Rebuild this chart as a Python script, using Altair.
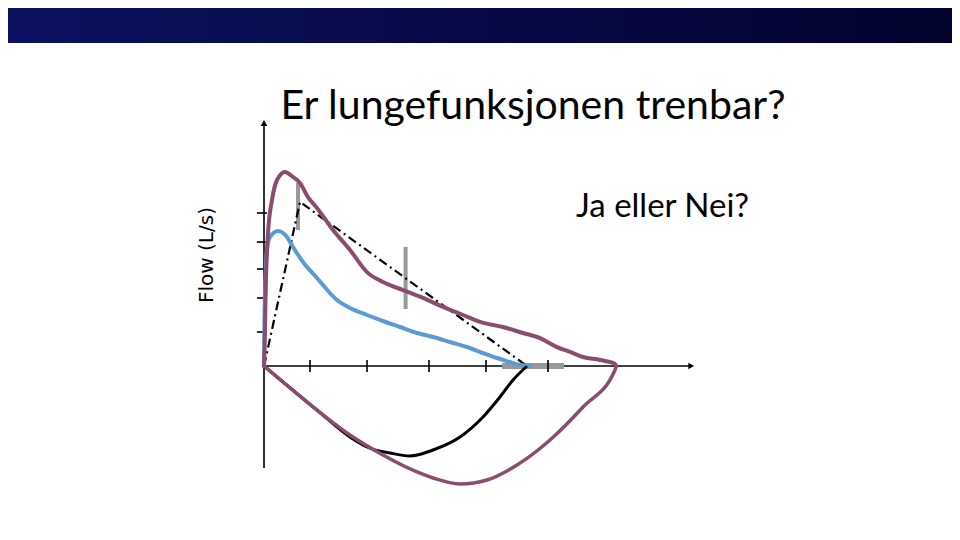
import altair as alt
import pandas as pd

# ---------------- data (volume in L, flow in L/s) ----------------
purple_exp_vol = [0, 0.017, 0.025, 0.067, 0.133, 0.217, 0.35, 0.483, 0.6, 0.733, 0.883, 1.15, 1.433,
                  1.717, 1.983, 2.317, 2.65, 2.983, 3.317, 3.6, 3.983, 4.317, 4.6, 4.883, 5.1, 5.317,
                  5.6, 5.85, 5.87]
purple_exp_flow = [0, 1.2, 2.2, 4.43, 5.53, 6.2, 6.47, 6.3, 6.1, 5.63, 5.27, 4.53, 3.87,
                   3.13, 2.8, 2.53, 2.27, 1.97, 1.7, 1.47, 1.3, 1.1, 0.93, 0.63, 0.47, 0.3,
                   0.2, 0.07, 0]

purple_insp_vol = [0, 0.317, 0.883, 1.433, 1.983, 2.55, 2.817, 3.267, 3.717, 4.217, 4.767, 5.317, 5.85, 5.87]
purple_insp_flow = [0, -0.533, -1.467, -2.3, -2.967, -3.533, -3.733, -3.933, -3.8, -3.3, -2.467, -1.367, -0.133, 0]

black_insp_vol = [0, 0.317, 0.883, 1.433, 1.717, 2.1, 2.433, 2.817, 3.267, 3.65, 3.933, 4.15, 4.367]
black_insp_flow = [0, -0.533, -1.467, -2.367, -2.7, -2.9, -3.0, -2.8, -2.367, -1.7, -1.033, -0.467, -0.033]

blue_exp_vol = [0, 0.008, 0.05, 0.1, 0.233, 0.383, 0.483, 0.65, 0.883, 1.217, 1.433, 1.717, 1.983,
                2.267, 2.55, 2.817, 3.1, 3.383, 3.65, 3.883, 4.1, 4.267, 4.433]
blue_exp_flow = [0, 1.633, 3.867, 4.3, 4.5, 4.3, 3.967, 3.467, 2.933, 2.2, 1.933, 1.7, 1.5,
                 1.3, 1.1, 0.967, 0.8, 0.633, 0.433, 0.267, 0.133, 0.033, 0]

pred_vol = [0, 0.6, 4.383]
pred_flow = [0, 5.47, 0]

gray_v_vol = [0.567, 2.36]
gray_v_lo = [4.53, 1.9]
gray_v_hi = [6.1, 3.97]
gray_h_start = [3.967]
gray_h_end = [5.0]

x_ticks = [0.767, 1.717, 2.75, 3.7, 4.733]
y_ticks = [1.133, 2.267, 3.233, 4.133, 5.1]

y_axis_range = [-3.4, 8.1]
x_axis_range = [0, 7.12]

title_text = "Er lungefunksjonen trenbar?"
note_text = "Ja eller Nei?"
ylabel_text = "Flow (L/s)"

# ---------------- chart ----------------
W, H = 944, 524
xs = alt.Scale(domain=[-256 / 60, 688 / 60], nice=False, zero=False)
ys = alt.Scale(domain=[-166 / 30, 358 / 30], nice=False, zero=False)


def series(vol, flow):
    return pd.DataFrame({"vol": vol, "flow": flow, "i": list(range(len(vol)))})


def X(f="vol"):
    return alt.X(f + ":Q", scale=xs, axis=None)


def Y(f="flow"):
    return alt.Y(f + ":Q", scale=ys, axis=None)


one = pd.DataFrame({"a": [0]})

banner = alt.Chart(one).mark_rect(
    color=alt.Gradient(
        gradient="linear",
        stops=[alt.GradientStop(color="#0c1262", offset=0),
               alt.GradientStop(color="#070a48", offset=0.45),
               alt.GradientStop(color="#03032e", offset=1)],
        x1=0, x2=1, y1=0, y2=0)
).encode(x=alt.value(0), x2=alt.value(W), y=alt.value(0), y2=alt.value(35))

yaxis = alt.Chart(pd.DataFrame({"vol": [0], "lo": [y_axis_range[0]], "hi": [y_axis_range[1]]})).mark_rule(
    color="black", strokeWidth=1.6
).encode(x=X(), y=Y("lo"), y2="hi:Q")

xaxis = alt.Chart(pd.DataFrame({"flow": [0], "lo": [x_axis_range[0]], "hi": [x_axis_range[1]]})).mark_rule(
    color="black", strokeWidth=1.6
).encode(x=X("lo"), x2="hi:Q", y=Y())

yarrow = alt.Chart(pd.DataFrame({"vol": [0], "flow": [y_axis_range[1]]})).mark_point(
    shape="triangle-up", filled=True, size=45, color="black", opacity=1
).encode(x=X(), y=Y())

xarrow = alt.Chart(pd.DataFrame({"vol": [x_axis_range[1]], "flow": [0]})).mark_point(
    shape="triangle-right", filled=True, size=45, color="black", opacity=1
).encode(x=X(), y=Y())

gray_v = alt.Chart(pd.DataFrame({"vol": gray_v_vol, "lo": gray_v_lo, "hi": gray_v_hi})).mark_rule(
    color="#999999", strokeWidth=4
).encode(x=X(), y=Y("lo"), y2="hi:Q")

gray_h = alt.Chart(pd.DataFrame({"a": gray_h_start, "b": gray_h_end, "flow": [0]})).mark_rule(
    color="#999999", strokeWidth=6
).encode(x=X("a"), x2="b:Q", y=Y())

xt = alt.Chart(pd.DataFrame({"vol": x_ticks, "flow": [0] * len(x_ticks)})).mark_tick(
    orient="vertical", size=12, thickness=1.6, color="black", opacity=1
).encode(x=X(), y=Y())

yt = alt.Chart(pd.DataFrame({"vol": [-0.035] * len(y_ticks), "flow": y_ticks})).mark_tick(
    orient="horizontal", size=10, thickness=1.6, color="black", opacity=1
).encode(x=X(), y=Y())

pred = alt.Chart(series(pred_vol, pred_flow)).mark_line(
    color="black", strokeWidth=2.2, strokeDash=[9, 4, 2, 4]
).encode(x=X(), y=Y(), order="i:Q")

blue = alt.Chart(series(blue_exp_vol, blue_exp_flow)).mark_line(
    color="#5b9bd5", strokeWidth=4, interpolate="monotone", strokeCap="round"
).encode(x=X(), y=Y(), order="i:Q")

black_insp = alt.Chart(series(black_insp_vol, black_insp_flow)).mark_line(
    color="black", strokeWidth=3, interpolate="monotone", strokeCap="round"
).encode(x=X(), y=Y(), order="i:Q")

purple_insp = alt.Chart(series(purple_insp_vol, purple_insp_flow)).mark_line(
    color="#8b4d6e", strokeWidth=3.5, interpolate="monotone", strokeCap="round"
).encode(x=X(), y=Y(), order="i:Q")

purple_exp = alt.Chart(series(purple_exp_vol, purple_exp_flow)).mark_line(
    color="#8b4d6e", strokeWidth=4, interpolate="monotone", strokeCap="round"
).encode(x=X(), y=Y(), order="i:Q")

title = alt.Chart(one).mark_text(
    text=title_text, font="Lato", fontSize=41, align="center", baseline="alphabetic", color="black"
).encode(x=alt.value(525), y=alt.value(111))

note = alt.Chart(one).mark_text(
    text=note_text, font="Lato", fontSize=33, align="left", baseline="alphabetic", color="black"
).encode(x=alt.value(568), y=alt.value(209))

ylabel = alt.Chart(one).mark_text(
    text=ylabel_text, font="DejaVu Sans", fontSize=20, align="center", baseline="alphabetic",
    angle=270, color="black"
).encode(x=alt.value(205), y=alt.value(247))

chart = alt.layer(
    banner, yaxis, xaxis, yarrow, xarrow, gray_h, gray_v, xt, yt, pred, blue, black_insp,
    purple_insp, purple_exp, title, note, ylabel
).properties(
    width=W, height=H, autosize=alt.AutoSizeParams(type="none"), padding=0, background="white"
).configure_view(stroke=None)

chart.save("out.html", embed_options={"renderer": "svg", "actions": False})
